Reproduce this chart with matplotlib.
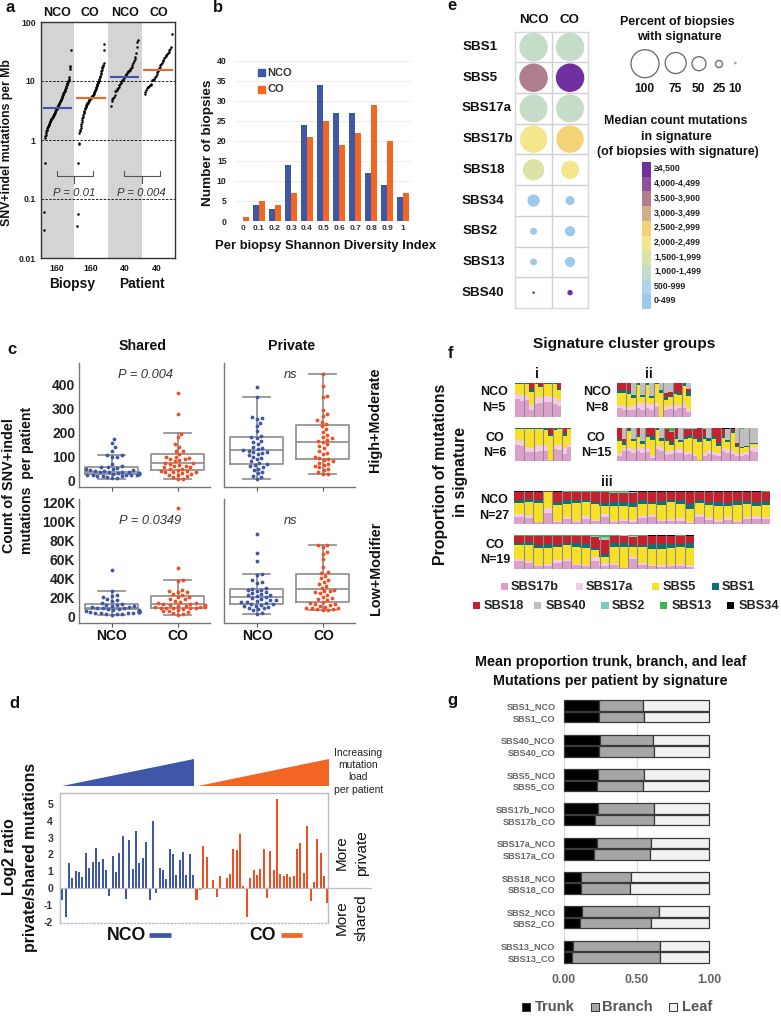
import numpy as np
import matplotlib
matplotlib.use('Agg')
import matplotlib.pyplot as plt
from matplotlib.patches import Circle, Rectangle, Polygon

plt.rcParams['font.family'] = ['Liberation Sans', 'DejaVu Sans']
W, H = 781, 1016
BLUE, ORANGE = '#3F57A8', '#F26522'
DOT_B, DOT_O = '#3F57A8', '#F04E23'

# ---------- panel a
a_groups = ['NCO', 'CO', 'NCO', 'CO']
a_counts = ['160', '160', '40', '40']
a_nco_biopsy = [0.03,0.06,0.41,1.1,1.15,1.2,1.3,1.4,1.45,1.5,1.6,1.65,1.7,1.8,1.85,1.9,2.0,2.05,2.1,2.2,2.25,2.3,2.35,2.4,2.5,2.55,2.6,2.7,2.75,2.8,2.9,3.0,3.1,3.2,3.3,3.4,3.5,3.6,3.7,3.8,3.9,4.0,4.1,4.25,4.4,4.5,4.7,4.85,5.0,5.2,5.4,5.6,5.8,6.0,6.2,6.4,6.6,6.9,7.1,7.4,7.7,8.0,8.3,8.6,8.9,9.2,9.6,10,10.5,11,11.5,16,17,18,34]
a_co_biopsy = [0.035,0.055,0.4,0.85,0.9,1.3,1.4,1.5,1.6,1.75,1.9,2.0,2.2,2.4,2.5,2.7,2.85,3.0,3.15,3.3,3.45,3.6,3.7,3.85,4.0,4.1,4.2,4.3,4.45,4.6,4.7,4.8,4.9,5.0,5.1,5.2,5.3,5.4,5.5,5.6,5.75,5.9,6.1,6.3,6.5,6.7,7.0,7.3,7.6,7.9,8.2,8.5,8.8,9.2,9.6,10,10.5,11,11.6,12.2,13,13.8,14.6,15.5,16.5,17.2,18,19,20,33,43]
a_nco_patient = [3.7,4.5,4.9,5.1,5.4,5.8,6.8,6.9,7.0,7.3,7.6,8,8.4,8.8,9.3,9.8,10.2,10.6,11.1,11.5,12,12.5,13,13.6,14,14.5,15,15.5,16,16.3,17.5,19,20.5,22,24,26,30,37,45,49]
a_co_patient = [6,6.5,7,7.5,7.8,8,8.2,8.4,8.6,8.8,10.2,10.5,10.8,11,11.5,12.3,13,14,15,16.5,17.5,18.5,19.5,20.5,21.5,23,24.5,26,27,28,29,30,31,33,35,37,62]
a_medians = [3.5, 5.2, 11.7, 15.4]
a_pvals = ['P = 0.01', 'P = 0.004']

# ---------- panel b
b_bins = ['0','0.1','0.2','0.3','0.4','0.5','0.6','0.7','0.8','0.9','1']
b_nco = [0,4,3,14,24,34,27,27,12,9,6]
b_co = [1,5,4,7,21,25,19,22,29,20,7]

# ---------- panel c
c_hm_stats = {
 'shared_nco': (7,26,37,55,106), 'shared_co': (5,44,72,109,198),
 'private_nco': (8,68,127,181,346), 'private_co': (26,90,159,231,443)}
c_lm_stats = {
 'shared_nco': (1,7,8,13,26), 'shared_co': (1,8,12.6,21,38),
 'private_nco': (2.5,13,20,29,44), 'private_co': (6,14.4,29,44.5,75.4)}
c_shared_hm_nco = [172,155,140,125,105,105,100,98,70,60,55,55,52,50,48,45,45,42,40,38,38,36,34,32,32,30,28,28,26,25,24,24,22,22,20,20,18,15,12,10]
c_shared_hm_co = [362,278,192,180,150,140,125,125,112,100,98,95,90,88,85,80,75,72,70,65,62,60,55,55,50,48,45,42,40,38,36,35,30,28,25,22,20,15,8,5]
c_private_hm_nco = [389,346,262,258,255,240,225,205,185,180,178,165,160,150,140,135,130,128,125,120,118,115,110,105,100,95,88,80,72,68,65,60,55,50,45,35,30,20,15,8]
c_private_hm_co = [443,392,352,345,295,275,270,250,245,235,225,215,200,190,180,175,170,165,160,150,145,135,125,115,110,100,95,90,85,80,75,70,65,62,55,50,45,35,28,26]
c_shared_lm_nco = [49,26,22,21,20,18,17,16,14,13,12,12,11,11,10,10,9,8,8,7,7,6,6,5.5,5,5,5,4.5,4.5,4,4,4,3.5,3.5,3,3,2.5,2,2,1.5]
c_shared_lm_co = [114,51,38,37,27,26,25,25,23,22,20,20,18,18,16,15,14,14,13,13,12,12,11,11,10,10,9.5,9,9,8.5,8,8,7,6,5,5,4,3,2,1]
c_private_lm_nco = [87,67,58,44,43,38,36,35,30,29,28,27,26,25,24,23,22,22,21,20,19,18,17,17,16,15,15,14,13,13,12,11,11,10,9,8,7,6,3,2.5]
c_private_lm_co = [75,75,73,68,66,60,52,46,45,42,40,38,36,34,32,30,28,26,26,25,24,22,20,19,18,17,15,14,13,13,12,11,10,9,9,8,7,7,6,6]

# ---------- panel d
d_nco = [-0.7,-1.75,1.5,0.6,1.0,0.95,0.65,2.1,1.2,1.55,2.4,1.55,1.7,1.1,-0.5,1.9,0.95,2.1,3.1,-0.65,2.85,1.15,3.4,1.5,1.8,2.75,-0.7,4.0,-0.3,1.2,1.05,0.55,2.3,2.05,0.8,1.65,2.15,0.8,2.0,0.8]
d_co = [-0.7,-0.1,2.5,1.85,-0.08,0.45,-0.55,0.72,-0.05,0.6,0.85,2.3,2.25,3.2,0.13,-1.75,0.58,1.05,0.75,1.15,2.35,-0.6,2.2,1.1,5.3,0.85,0.72,0.82,0.65,0.7,2.3,2.65,0.9,3.7,-0.8,0.35,2.9,2.1,0.72,-0.9]

# ---------- panel e
e_sigs = ['SBS1','SBS5','SBS17a','SBS17b','SBS18','SBS34','SBS2','SBS13','SBS40']
e_pct_nco = [100,100,98,96,75,43,25,24,9]
e_pct_co = [100,100,98,96,64,32,36,36,19]
e_med_nco = [1200,3700,1200,2200,1700,250,250,250,4700]
e_med_co = [1200,4700,1200,2700,2200,250,250,250,4700]
e_bin_edges = [500,1000,1500,2000,2500,3000,3500,4000,4500]
e_bin_labels = ['0-499','500-999','1,000-1,499','1,500-1,999','2,000-2,499','2,500-2,999','3,000-3,499','3,500-3,900','4,000-4,499','≥4,500']
e_bin_colors = ['#9DC9EB','#AFD3EC','#C5DCC8','#DDE3A8','#F4E68A','#F4D378','#D4AE88','#B07F8F','#9050A0','#7030A0']
e_size_legend = [100,75,50,25,10]

# ---------- panel f  (17b, 17a, 5, 1, 18, 40, 2, 13, 34)
f_names = ['SBS17b','SBS17a','SBS5','SBS1','SBS18','SBS40','SBS2','SBS13','SBS34']
f_colors = ['#DDA0CC','#F3CCE3','#F7E027','#0F7173','#C4212F','#BFBFBF','#78CDB8','#3CB54A','#000000']
f_i_nco = [(52,15,30,3),(48,17,32,3),(50,16,31,3),(22,12,40,8,18),(38,20,39,3),(40,20,28,3,9),(45,16,35,4),(45,16,35,4),(38,22,36,4),(33,17,28,7,15)]
f_i_co = [(50,15,32,3),(45,17,35,3),(28,13,55,4),(26,12,58,4),(28,20,48,4),(30,20,46,4),(30,18,47,5),(2,1,72,7,18),(35,15,45,5),(33,17,47,3),(20,20,35,10,15),(42,10,45,3)]
f_ii_nco = [(25,10,35,8,22),(22,10,40,8,20),(20,10,38,7,25),(22,12,22,8,0,36),(25,15,55,5),(22,18,18,8,0,34),(25,15,55,5),(20,18,17,8,0,37),(28,12,58,2),(0,0,70,10,0,20),(20,8,22,8,12,30),(24,10,24,8,8,26),(22,12,35,8,23),(25,10,30,7,28),(25,15,52,8),(15,8,40,10,10,17)]
f_ii_co = [(15,10,35,8,32),(30,8,12,8,8,34),(30,10,50,7,3),(25,10,25,8,0,32),(30,12,30,6,22),(25,15,12,8,0,40),(28,10,35,6,21),(10,5,50,12,23),(35,10,50,5),(30,12,20,8,0,30),(18,10,32,8,28,0,1,3),(20,12,18,8,30,0,2,10),(25,12,30,8,25),(25,12,20,8,0,35),(18,8,40,8,24,0,1,1),(20,8,42,8,20,0,1,1),(15,7,45,7,24,0,1,1),(2,1,55,10,31,0,1),(15,8,45,8,22,0,2),(22,12,28,8,0,30),(18,8,40,8,25),(15,8,22,8,45),(30,10,30,8,20,0,0,0,2),(25,12,20,8,0,33,0,0,2),(20,10,55,5,8,0,0,0,2),(15,8,20,5,8,44),(15,8,15,4,0,55,1,2),(18,8,15,3,0,54),(30,12,10,4,0,44),(28,14,10,3,0,45)]
f_iii_nco = [(20,10,35,8,24,0,1,1,1),(17,9,42,8,22,0,1,0,1),(5,0,58,9,26,0,0,1,1),(33,17,48,0,2),(6,4,48,8,32,0,1,0,1),(14,8,40,10,26,0,1,1),(5,3,55,10,25,0,1,1),(15,8,45,5,25,0,1,1),(8,5,47,8,30,0,1,1),(22,8,25,10,33,0,1,1),(5,3,48,10,30,0,2,2),(10,6,38,12,28,0,4,2),(6,5,42,12,31,0,2,1,1),(17,8,35,12,25,0,1,1,1),(20,8,32,8,30,0,1,0,1),(8,5,45,12,28,0,1,0,1),(10,6,50,8,25,0,0,0,1),(10,8,42,12,26,0,1,0,1),(4,3,38,15,38,0,1,0,1),(20,12,32,8,26,0,1,0,1),(12,8,38,10,30,0,1,0,1),(7,4,45,12,30,0,1,0,1),(12,8,36,8,34,0,1,0,1),(6,3,50,12,27,0,1,0,1),(14,8,38,10,28,0,1,0,1),(15,8,32,13,30,0,0,1,1),(15,6,38,12,27,0,1,1)]
f_iii_co = [(22,8,42,6,20,0,1,1),(18,6,48,8,18,0,1,1),(8,4,50,10,26,0,1,1),(8,6,48,12,24,0,1,1),(16,10,38,8,26,0,1,1),(24,6,40,8,20,0,1,1),(10,4,50,12,22,0,1,1),(8,4,50,12,24,0,1,1),(24,10,22,6,32,0,3,3),(8,8,18,10,42,6,4,4),(12,6,48,10,22,0,1,1),(2,1,62,12,20,3),(30,6,28,6,26,1,1,2),(12,4,48,8,26,0,1,1),(8,4,48,14,24,0,0,0,2),(6,4,50,14,24,0,0,0,2),(8,3,50,14,23,0,0,0,2),(8,6,50,10,24,0,1,1),(6,4,52,14,22,0,0,0,2)]

# ---------- panel g
g_labels = ['SBS1','SBS40','SBS5','SBS17b','SBS17a','SBS18','SBS2','SBS13']
g_trunk_nco = [.244,.25,.232,.232,.228,.12,.124,.064]
g_trunk_co = [.244,.244,.228,.214,.209,.12,.108,.053]
g_branch_nco = [.299,.361,.317,.386,.370,.344,.529,.600]
g_branch_co = [.305,.379,.315,.404,.384,.335,.490,.607]


def axpx(x0, y0, x1, y1, **kw):
    return fig.add_axes([x0/W, 1-y1/H, (x1-x0)/W, (y1-y0)/H], **kw)


fig = plt.figure(figsize=(W/100, H/100), dpi=100, facecolor='white')
ov = fig.add_axes([0, 0, 1, 1], zorder=50)
ov.set_xlim(0, W); ov.set_ylim(H, 0); ov.axis('off'); ov.patch.set_alpha(0)


def T(x, y, s, size=9, weight='bold', ha='center', va='center', rot=0, color='#111111', style='normal'):
    ov.text(x, y, s, fontsize=size, fontweight=weight, ha=ha, va=va, rotation=rot, color=color,
            fontstyle=style, rotation_mode='anchor' if rot else 'default')


for x, y, s in [(5,7,'a'),(213,8,'b'),(447,6,'e'),(7,350,'c'),(9,703,'d'),(448,353,'f'),(447,700,'g')]:
    T(x, y, s, size=12, ha='left')

# --- a
ax = axpx(40.5, 22, 175, 258)
ax.set_yscale('log'); ax.set_ylim(0.01, 100); ax.set_xlim(-0.5, 3.5)
ax.axvspan(-0.5, 0.5, color='#D4D4D4', lw=0, zorder=0)
ax.axvspan(1.5, 2.52, color='#D4D4D4', lw=0, zorder=0)
for v in [10, 1, 0.1]:
    ax.axhline(v, color='#222222', lw=0.7, ls=(0, (2.5, 1.5)), zorder=1)
for i, vals in enumerate([a_nco_biopsy, a_co_biopsy, a_nco_patient, a_co_patient]):
    ax.scatter(i + np.linspace(-0.4, 0.4, len(vals)), vals, s=3.2, c='black', lw=0, zorder=3)
    ax.plot([i-0.44, i+0.44], [a_medians[i]]*2, color=[BLUE, ORANGE][i % 2], lw=1.5, zorder=4, solid_capstyle='butt')
ax.set_xticks([]); ax.minorticks_off()
ax.set_yticks([0.01,0.1,1,10,100]); ax.set_yticklabels(['0.01','0.1','1','10','100'], fontsize=6.3, fontweight='bold', color='#222')
ax.tick_params(axis='y', length=0, pad=3.5, which='both')
ax.yaxis.set_minor_locator(matplotlib.ticker.NullLocator())
for s in ax.spines.values():
    s.set_color('#333333'); s.set_linewidth(1)
for x, g, c, xc in zip([57,90,124.7,159], a_groups, a_counts, [57,90.7,124.3,157]):
    T(x, 12.7, g, size=9)
    T(xc, 268.3, c, size=6.2)
T(72.3, 283.7, 'Biopsy', size=9.9); T(141.7, 283.7, 'Patient', size=9.9)
T(7, 143, 'SNV+indel mutations per Mb', size=8.8, rot=90)
for (x0, x1, xm), p in zip([(56.7,92.7,74),(124.3,160.3,141.7)], a_pvals):
    ov.plot([x0,x0,x1,x1],[171,175.5,175.5,171], color='#555', lw=0.8)
    ov.plot([xm,xm],[175.5,183], color='#555', lw=0.8)
    T(xm, 193, p, size=8.2, weight='normal', style='italic', color='#333')

# --- b
ax = axpx(235, 60.7, 411, 221)
ax.set_xlim(-0.5, 10.5); ax.set_ylim(0, 40)
x = np.arange(len(b_bins))
ax.bar(x-0.19, b_nco, 0.38, color=BLUE, zorder=3)
ax.bar(x+0.19, b_co, 0.38, color=ORANGE, zorder=3)
ax.set_yticks(range(0, 41, 5)); ax.grid(axis='y', color='#EEEEEE', lw=0.8, zorder=0)
ax.set_xticks(x); ax.set_xticklabels(b_bins, fontsize=6, fontweight='bold', color='#333')
ax.set_yticklabels(range(0, 41, 5), fontsize=6.2, fontweight='bold', color='#222')
ax.tick_params(length=0, pad=3)
ax.tick_params(axis='y', pad=6)
for s in ax.spines.values():
    s.set_visible(False)
ov.add_patch(Rectangle((258, 69), 7, 7, color=BLUE)); T(267, 72.5, 'NCO', size=8, ha='left', color='#333')
ov.add_patch(Rectangle((258, 86), 7, 7, color=ORANGE)); T(267, 89.5, 'CO', size=8, ha='left', color='#333')
T(208, 142.7, 'Number of biopsies', size=9.7, rot=90)
T(325.7, 246, 'Per biopsy Shannon Diversity Index', size=9.4)

# --- c
def swarm(vals, ppu, d=4.6):
    v = np.sort(np.asarray(vals, float))
    placed = []
    out = np.zeros(len(v))
    for i, val in enumerate(v):
        y = val*ppu
        for step in range(0, 60):
            off = ((step+1)//2) * 0.9 * (1 if step % 2 else -1)
            if all((off-px)**2 + (y-py)**2 >= d*d for px, py in placed):
                break
        placed.append((off, y)); out[i] = off
    return v, out


def box_panel(box, ylim, stats, vals, ppu, yticks=None, ylabels=None, xlab=False):
    ax = axpx(*box)
    ax.set_xlim(-0.49, 1.49); ax.set_ylim(*ylim)
    bx = [dict(whislo=s[0], q1=s[1], med=s[2], q3=s[3], whishi=s[4], fliers=[]) for s in stats]
    lp = dict(color='#8C8C8C', lw=1.2)
    ax.bxp(bx, positions=[0,1], widths=0.8, capwidths=0.4, showfliers=False, boxprops=lp, medianprops=lp,
           whiskerprops=lp, capprops=lp, manage_ticks=False, zorder=2)
    for i, vv in enumerate(vals):
        v, off = swarm(vv, ppu)
        ax.scatter(i + off/66, v, s=7.5, c=[DOT_B, DOT_O][i], lw=0, zorder=3)
    for s in ['top','right']:
        ax.spines[s].set_visible(False)
    for s in ['left','bottom']:
        ax.spines[s].set_color('#777777'); ax.spines[s].set_linewidth(1)
    ax.set_xticks([0,1]); ax.set_xticklabels([])
    ax.tick_params(axis='x', length=3, color='#555')
    if yticks is None:
        ax.set_yticks([])
    else:
        ax.set_yticks(yticks); ax.set_yticklabels(ylabels, fontsize=10, fontweight='bold', color='#222')
        ax.tick_params(axis='y', length=0, pad=3)
    return ax


lim_t = (-25, 489); lim_b = (-7, 123.5)
box_panel((79.3,362.7,210,486.7), lim_t, [c_hm_stats['shared_nco'], c_hm_stats['shared_co']], [c_shared_hm_nco, c_shared_hm_co], 0.241,
          [0,100,200,300,400], ['0','100','200','300','400'])
box_panel((224.3,362.7,355,486.7), lim_t, [c_hm_stats['private_nco'], c_hm_stats['private_co']], [c_private_hm_nco, c_private_hm_co], 0.241)
box_panel((79.3,499,210,622.7), lim_b, [c_lm_stats['shared_nco'], c_lm_stats['shared_co']], [c_shared_lm_nco, c_shared_lm_co], 0.9475,
          [0,20,40,60,80,100,120], ['0','20K','40K','60K','80K','100K','120K'])
box_panel((224.3,499,355,622.7), lim_b, [c_lm_stats['private_nco'], c_lm_stats['private_co']], [c_private_lm_nco, c_private_lm_co], 0.9475)
T(142.3, 346, 'Shared', size=10.2); T(292, 346, 'Private', size=10.2)
T(145, 375, 'P = 0.004', size=9.3, weight='normal', style='italic', color='#333')
T(150, 521, 'P = 0.0349', size=9.3, weight='normal', style='italic', color='#333')
T(291, 375, 'ns', size=9.3, weight='normal', style='italic', color='#333')
T(290.5, 521, 'ns', size=9.3, weight='normal', style='italic', color='#333')
for x, s in [(111.7,'NCO'),(177.7,'CO'),(257.7,'NCO'),(323.7,'CO')]:
    T(x, 636, s, size=10)
T(9.5, 485.7, 'Count of SNV+indel', size=10.4, rot=90)
T(27.3, 480.7, 'mutations  per patient', size=10.2, rot=90)
T(375, 420, 'High+Moderate', size=10.4, rot=90)
T(375.7, 568, 'Low+Modifier', size=10.4, rot=90)

# --- d
ax = axpx(60, 792.7, 328.3, 923.3)
ax.set_xlim(-0.7, 79.3); ax.set_ylim((888-923.3)/16.8, (888-792.7)/16.8)
dv = d_nco + d_co
ax.bar(np.arange(80), dv, 0.6, color=[BLUE]*len(d_nco) + [DOT_O]*len(d_co), zorder=3)
ax.set_xticks([]); ax.set_yticks([-2,-1,0,1,2,3,4,5])
ax.set_yticklabels(['-2','-1','0','1','2','3','4','5'], fontsize=7.5, fontweight='bold', color='#333')
ax.tick_params(length=0, pad=5)
for n, s in ax.spines.items():
    s.set_color('#BDBDBD'); s.set_linewidth(1)
ax.spines['bottom'].set_linestyle(':')
ov.plot([60, 370.7], [888, 888], color='#BDBDBD', lw=0.9, zorder=0)
ov.add_patch(Polygon([(62,786),(194,786),(194,759)], color=BLUE, lw=0))
ov.add_patch(Polygon([(197.7,786),(329.3,786),(329.3,759)], color=ORANGE, lw=0))
for y, s in zip([752.7,765,777.3,790.3], ['Increasing','mutation','load','per patient']):
    T(358.3, y, s, size=7.5, weight='normal', color='#222')
T(10, 857, 'Log2 ratio', size=11.4, rot=90)
T(30.7, 857, 'private/shared mutations', size=11.4, rot=90)
T(341.7, 853, 'More', size=11, weight='normal', rot=90); T(361.7, 853, 'private', size=11, weight='normal', rot=90)
T(341.7, 918, 'More', size=11, weight='normal', rot=90); T(361.7, 918, 'shared', size=11, weight='normal', rot=90)
T(126, 935, 'NCO', size=12.7); T(262, 935, 'CO', size=12.7)
ov.plot([149,171],[935,935], color=BLUE, lw=3.4, solid_capstyle='butt')
ov.plot([281,302],[935,935], color=ORANGE, lw=3.4, solid_capstyle='butt')

# --- e
ax = axpx(515.3, 31.7, 588.3, 308)
ax.set_xlim(0, 2); ax.set_ylim(9, 0)
ax.set_xticks([1]); ax.set_yticks(range(1, 9)); ax.set_xticklabels([]); ax.set_yticklabels([])
ax.tick_params(length=0)
ax.grid(color='#CFCFCF', lw=1); ax.set_axisbelow(True)
for s in ax.spines.values():
    s.set_color('#D8D8D8'); s.set_linewidth(1)
rows = np.arange(len(e_sigs)) + 0.5
for cx, pct, med in [(0.5, e_pct_nco, e_med_nco), (1.5, e_pct_co, e_med_co)]:
    d_pt = np.array(pct) * 0.285 * 0.72
    cols = [e_bin_colors[i] for i in np.digitize(med, e_bin_edges)]
    ax.scatter([cx]*len(pct), rows, s=d_pt**2, c=cols, lw=0, zorder=3, clip_on=False)
T(534, 20, 'NCO', size=9.6); T(569.5, 20, 'CO', size=9.6)
for y, s, x in zip(31.7 + rows*30.7, e_sigs, [462.7,462.7,462,462.7,462.7,462,463,463,462]):
    T(x, y, s, size=9.6, ha='left')
T(677.3, 21.7, 'Percent of biopsies', size=8.9, color='#111'); T(679, 36.7, 'with signature', size=8.9, color='#111')
for cx, cy, p, lx in zip([645,675.7,699,719,735.3], [63.7,63,63.7,64,63], e_size_legend, [644.7,675,698.7,719,735]):
    if p == 10:
        ov.add_patch(Circle((cx, cy), p*0.14, color='#A8A8A8', lw=0))
    else:
        ov.add_patch(Circle((cx, cy), p*0.14, fc='white', ec='#666666', lw=0.9))
    T(lx, 89.3, str(p), size=8.6)
T(676, 121, 'Median count mutations', size=8.9); T(676.5, 136.7, 'in signature', size=8.9)
T(677.7, 152, '(of biopsies with signature)', size=8.9)
for i, (lab, c) in enumerate(zip(e_bin_labels[::-1], e_bin_colors[::-1])):
    ov.add_patch(Rectangle((642, 162 + i*14.7), 9, 14.8, color=c, lw=0))
    T(654, 168.5 + i*14.7, lab, size=6.3, ha='left', color='#222')

# --- f
def stack(box, rows, n):
    ax = axpx(*box); ax.axis('off')
    arr = np.zeros((len(rows), 9))
    for i, r in enumerate(rows):
        arr[i, :len(r)] = r
    arr = arr / arr.sum(axis=1, keepdims=True)
    x = np.arange(len(rows))
    base = np.zeros(len(rows))
    for j in range(9):
        ax.bar(x, arr[:, j], 1.04, bottom=base, color=f_colors[j], lw=0)
        base += arr[:, j]
    ax.set_xlim(-0.5, len(rows)-0.5); ax.set_ylim(0, 1)
    step = len(rows)/n
    for k in range(1, n):
        ax.axvline(-0.5 + k*step, color='#8E8E8E', lw=0.8)


stack((515,383,561.3,417), f_i_nco, 5)
stack((515,428,571.3,461), f_i_co, 6)
stack((617,383,691,417), f_ii_nco, 8)
stack((617,428,758.3,461), f_ii_co, 15)
stack((514.3,491.3,770,524), f_iii_nco, 27)
stack((514.3,535.3,694.3,568.7), f_iii_co, 19)
T(624.3, 344, 'Signature cluster groups', size=11.1)
T(537, 374, 'i', size=10); T(649.3, 374, 'ii', size=10); T(607.3, 482, 'iii', size=10)
for x, y, s in [(494,392,'NCO'),(494,407.7,'N=5'),(495,437.7,'CO'),(495,452.7,'N=6'),(596.7,392,'NCO'),(596.7,407.7,'N=8'),
                (596,437.7,'CO'),(596,452.7,'N=15'),(494,500.3,'NCO'),(494,515.7,'N=27'),(495,545,'CO'),(495,560,'N=19')]:
    T(x, y, s, size=9)
T(441, 474, 'Proportion of mutations', size=11.4, rot=90)
T(461, 471.7, 'in signature', size=11.4, rot=90)
leg = [(501,586.7,0,511),(576,586.7,1,586),(651.7,586.7,2,663),(711.7,586.7,3,721.7),
       (472.7,605.7,4,483.3),(534,605.7,5,545.7),(601.3,605.7,6,611.7),(660,605.7,7,671.7),(726.7,605.7,8,738.3)]
for sx, y, j, tx in leg:
    ov.add_patch(Rectangle((sx, y-3.5), 7.3, 7, color=f_colors[j], lw=0))
    T(tx, y, f_names[j], size=9.2, ha='left', color='#222')

# --- g
ax = axpx(564, 700, 709, 963)
ypos = []
labs = []
for i, g in enumerate(g_labels):
    ypos += [3*i, 3*i+1]; labs += [g+'_NCO', g+'_CO']
tr = np.ravel(list(zip(g_trunk_nco, g_trunk_co)))
br = np.ravel(list(zip(g_branch_nco, g_branch_co)))
lf = 1 - tr - br
kw = dict(height=0.92, edgecolor='#3A3A3A', linewidth=0.9, zorder=3, clip_on=False)
ax.barh(ypos, tr, color='black', **kw)
ax.barh(ypos, br, left=tr, color='#A6A6A6', **kw)
ax.barh(ypos, lf, left=tr+br, color='#F2F2F2', **kw)
ax.set_xlim(0, 1); ax.set_ylim(22.5, -0.5)
ax.set_xticks([0,0.5,1]); ax.set_xticklabels(['0.00','0.50','1.00'], fontsize=8.9, fontweight='bold', color='#666')
ax.set_yticks(ypos); ax.set_yticklabels(labs, fontsize=6.6, fontweight='bold', color='#666')
ax.tick_params(length=0); ax.tick_params(axis='y', pad=6); ax.tick_params(axis='x', pad=8)
ax.grid(axis='x', color='#D9D9D9', lw=0.9, zorder=0); ax.set_axisbelow(True)
for s in ax.spines.values():
    s.set_visible(False)
T(611, 662, 'Mean proportion trunk, branch, and leaf', size=10.4)
T(610, 680.5, 'Mutations per patient by signature', size=10.4)
for sx, tx, s, c in [(522,535,'Trunk','black'),(591,602.3,'Branch','#A6A6A6'),(669,681.7,'Leaf','#F2F2F2')]:
    ov.add_patch(Rectangle((sx, 1003), 8, 8, fc=c, ec='#333', lw=0.7))
    T(tx, 1007, s, size=10.6, ha='left', color='#555')

fig.savefig('out.png', dpi=100)
